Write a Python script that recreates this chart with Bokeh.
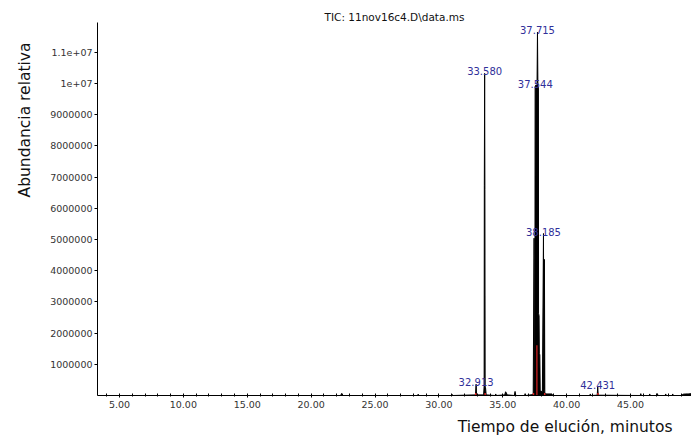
import math
from bokeh.plotting import figure
from bokeh.models import Range1d, FixedTicker, Title, ColumnDataSource
from bokeh.embed import file_html
from bokeh.resources import INLINE
from bokeh.core.properties import value

# ---- data ----
rt_min = [3.28, 22.30, 22.40, 22.50, 28.30, 28.38, 28.46, 31.00, 31.05, 31.10,
          32.86, 32.913, 32.95,
          33.50, 33.54, 33.555, 33.580, 33.600, 33.62, 33.65, 33.70,
          34.40, 34.45, 34.50, 35.15, 35.22, 35.28, 35.35, 35.90, 35.96, 36.02,
          36.70, 36.75, 36.80,
          37.38, 37.45, 37.48, 37.51, 37.53, 37.60, 37.68, 37.715, 37.75, 37.79,
          37.80, 37.84, 37.86, 37.90, 37.93,
          38.10, 38.185, 38.22, 38.26, 38.29, 38.40, 38.85, 38.90,
          41.80, 41.85, 41.90, 42.39, 42.431, 42.47,
          45.75, 45.80, 45.85, 46.45, 46.50, 46.55, 47.05, 47.10, 47.15,
          47.70, 47.75, 47.80, 48.25, 48.30, 48.35,
          49.00, 49.10, 49.30, 49.50, 49.77]
abundance = [0, 0, 70000, 0, 0, 40000, 0, 0, 30000, 0,
             20000, 360000, 20000,
             20000, 300000, 6730000, 10320000, 6600000, 300000, 250000, 20000,
             0, 50000, 0, 20000, 120000, 80000, 20000, 0, 130000, 0,
             0, 60000, 0,
             30000, 5040000, 150000, 200000, 9900000, 9950000, 9900000, 11640000, 9900000, 9850000,
             2630000, 2550000, 1350000, 1300000, 150000,
             120000, 5190000, 200000, 4360000, 100000, 50000, 50000, 0,
             0, 50000, 0, 10000, 270000, 10000,
             0, 60000, 0, 0, 50000, 0, 0, 60000, 0,
             0, 50000, 0, 0, 50000, 0,
             0, 40000, 50000, 50000, 60000]

peak_rt = [32.913, 33.580, 37.544, 37.715, 38.185, 42.431]
peak_abundance = [360000, 10320000, 9900000, 11640000, 5190000, 270000]
peak_text = ["32.913", "33.580", "37.544", "37.715", "38.185", "42.431"]

red_tick_rt = [32.88, 33.62, 37.40, 38.28, 42.45]
red_tick_top = [80000, 80000, 80000, 80000, 80000]
red_drop_rt = [37.67]
red_drop_top = [1610000]

x_ticks = [5, 10, 15, 20, 25, 30, 35, 40, 45]
x_tick_labels = ["5.00", "10.00", "15.00", "20.00", "25.00", "30.00", "35.00", "40.00", "45.00"]
x_minor = [4, 6, 7, 8, 9, 11, 12, 13, 14, 16, 17, 18, 19, 21, 22, 23, 24, 26, 27, 28, 29,
           31, 32, 33, 34, 36, 37, 38, 39, 41, 42, 43, 44, 46, 47, 48, 49]
y_ticks = [1000000, 2000000, 3000000, 4000000, 5000000, 6000000, 7000000, 8000000,
           9000000, 10000000, 11000000]
y_tick_labels = ["1000000", "2000000", "3000000", "4000000", "5000000", "6000000",
                 "7000000", "8000000", "9000000", "1e+07", "1.1e+07"]

title_text = "TIC: 11nov16c4.D\\data.ms"
y_label = "Abundancia relativa"
x_label = "Tiempo de elución, minutos"

FONT = "DejaVu Sans"

p = figure(width=691, height=440, output_backend="svg", toolbar_location=None,
           title=title_text,
           x_range=Range1d(3.28, 49.77), y_range=Range1d(0, 11950000),
           min_border_left=96, min_border_right=0, min_border_top=22, min_border_bottom=45)
p.outline_line_color = None
p.grid.visible = False
p.background_fill_color = "white"

p.title.align = "center"
p.title.text_font = FONT
p.title.text_font_size = "10.5px"
p.title.text_font_style = "normal"
p.title.text_color = "#111111"
p.title.standoff = 0
p.title.offset = 0

# axes
p.xaxis.ticker = FixedTicker(ticks=x_ticks, minor_ticks=x_minor)
p.xaxis.major_label_overrides = dict(zip(x_ticks, x_tick_labels))
p.yaxis.ticker = FixedTicker(ticks=y_ticks)
p.yaxis.major_label_overrides = dict(zip(y_ticks, y_tick_labels))
for ax in (p.xaxis, p.yaxis):
    ax.axis_line_color = "black"
    ax.axis_line_width = 1
    ax.major_tick_line_color = "black"
    ax.minor_tick_line_color = "black"
    ax.major_label_text_font = FONT
    ax.major_label_text_font_size = "9.5px"
    ax.major_label_text_color = "#333333"
p.xaxis.major_tick_in = 2
p.xaxis.major_tick_out = 2
p.xaxis.minor_tick_in = 2
p.xaxis.minor_tick_out = 1
p.xaxis.major_label_standoff = 3
p.yaxis.major_tick_in = 0
p.yaxis.major_tick_out = 3
p.yaxis.minor_tick_in = 0
p.yaxis.minor_tick_out = 0
p.yaxis.major_label_standoff = 2

# chromatogram
p.varea(x=rt_min, y1=[0] * len(rt_min), y2=abundance, fill_color="black")
p.line(rt_min, abundance, line_color="black", line_width=1)

# red integration marks
p.segment(x0=red_tick_rt, y0=[0] * len(red_tick_rt), x1=red_tick_rt, y1=red_tick_top,
          line_color="#dd2222", line_width=1.5)
p.segment(x0=red_drop_rt, y0=[0] * len(red_drop_rt), x1=red_drop_rt, y1=red_drop_top,
          line_color="#dd2222", line_width=1.2)

# peak labels
src = ColumnDataSource(dict(x=peak_rt, y=peak_abundance, t=peak_text))
p.text(x="x", y="y", text="t", source=src, text_align="center", text_baseline="alphabetic",
       y_offset=-2, text_font=value(FONT), text_font_size="10px", text_color="#30309a")

# axis titles
p.add_layout(Title(text=y_label, align="right", offset=20, standoff=27,
                   text_font=FONT, text_font_size="15.5px", text_font_style="normal",
                   text_color="#111111"), "left")
p.add_layout(Title(text=x_label, align="right", offset=19, standoff=10,
                   text_font=FONT, text_font_size="15.5px", text_font_style="normal",
                   text_color="#111111"), "below")

open("out.html", "w").write(file_html(p, INLINE))
